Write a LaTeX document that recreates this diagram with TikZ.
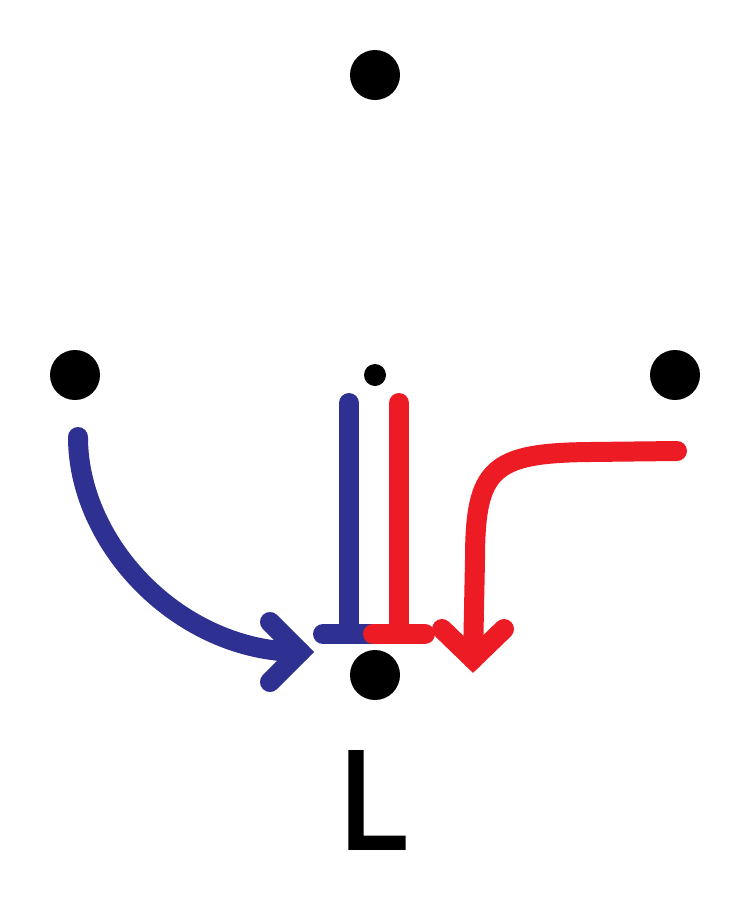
\documentclass[tikz,border=0pt]{standalone}
\usepackage{fontspec}
\newfontfamily\labfont{Open Sans}[FakeBold=3]
\begin{document}
\begin{tikzpicture}[x=1pt,y=-1pt,
  dot/.style={circle,fill=black,inner sep=0pt,minimum size=50pt},
  smalldot/.style={circle,fill=black,inner sep=0pt,minimum size=22pt},
  bluepath/.style={draw=myblue,line width=20pt,line cap=round,line join=round},
  redpath/.style={draw=myred,line width=20pt,line cap=round,line join=round},
  headstyle/.style={line width=20pt,line cap=round,line join=miter,miter limit=4}]
\definecolor{myblue}{HTML}{2E3192}
\definecolor{myred}{HTML}{ED1C24}
\useasboundingbox (0,0) rectangle (750,900);
\node[dot] (top) at (375,75) {};
\node[dot] (left) at (75,375) {};
\node[dot] (right) at (675,375) {};
\node[smalldot] (mid) at (375,375) {};
\node[dot] (bottom) at (375,675) {};
\node[font=\labfont\fontsize{134}{134}\selectfont,inner sep=0pt] (lab) at (372,800) {L};
% coordinates
\coordinate (b0) at (78,437);
\coordinate (b1) at (300,652);
\coordinate (ba) at (270,622);
\coordinate (bb) at (270,682);
\coordinate (bvt) at (349,403);
\coordinate (bvb) at (349,634);
\coordinate (bhl) at (323,634);
\coordinate (bhr) at (375,634);
\coordinate (rvt) at (399,403);
\coordinate (rvb) at (399,634);
\coordinate (rhl) at (373,634);
\coordinate (rhr) at (425,634);
\coordinate (r0) at (677,451);
\coordinate (r1) at (590,452);
\coordinate (r2) at (475,560);
\coordinate (r3) at (473,659);
\coordinate (ra) at (442,629);
\coordinate (rb) at (504,629);
% blue
\draw[bluepath] (b0) .. controls (78,545) and (180,652) .. (b1);
\draw[draw=myblue,headstyle] (ba) -- (b1) -- (bb);
\draw[bluepath] (bvt) -- (bvb);
\draw[bluepath] (bhl) -- (bhr);
% red
\draw[redpath] (rvt) -- (rvb);
\draw[redpath] (rhl) -- (rhr);
\draw[redpath] (r0) -- (r1) .. controls (492,453) and (475,468) .. (r2) -- (r3);
\draw[draw=myred,headstyle] (ra) -- (r3) -- (rb);
\end{tikzpicture}
\end{document}
